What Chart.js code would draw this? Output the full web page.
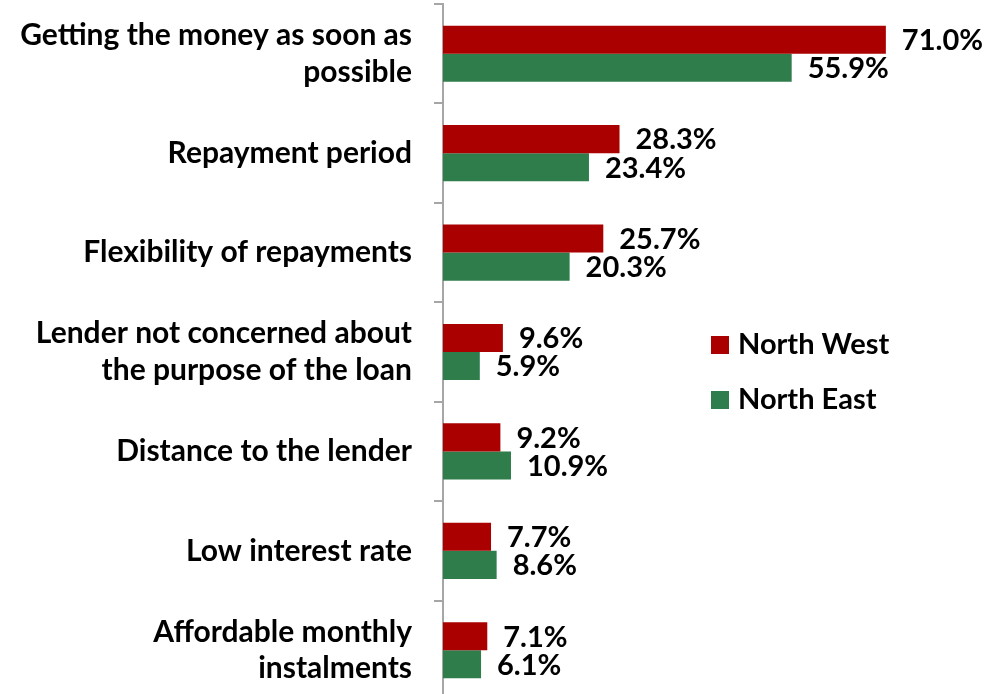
<!DOCTYPE html>
<html>
<head>
<meta charset="utf-8">
<script src="https://cdn.jsdelivr.net/npm/chart.js@4"></script>
<style>
  html, body { margin: 0; padding: 0; background: #fff; overflow: hidden; }
  .chart-container { width: 995px; height: 700px; position: relative; }
</style>
</head>
<body>
<div class="chart-container">
  <canvas id="chart"></canvas>
</div>
<script>
const categories = [
  ["Getting the money as soon as", "possible"],
  "Repayment period",
  "Flexibility of repayments",
  ["Lender not concerned about", "the purpose of the loan"],
  "Distance to the lender",
  "Low interest rate",
  ["Affordable monthly", "instalments"]
];
const northWest = [71.0, 28.3, 25.7, 9.6, 9.2, 7.7, 7.1];
const northEast = [55.9, 23.4, 20.3, 5.9, 10.9, 8.6, 6.1];
const seriesNames = ["North West", "North East"];
const seriesColors = ["#AA0000", "#2E7D4B"];

const FONT = "Lato, 'Liberation Sans', sans-serif";

// value labels to the right of each bar
const valueLabels = {
  id: "valueLabels",
  afterDatasetsDraw(chart) {
    const ctx = chart.ctx;
    ctx.save();
    ctx.font = "bold 29px " + FONT;
    ctx.fillStyle = "#000";
    ctx.textBaseline = "middle";
    ctx.textAlign = "left";
    chart.data.datasets.forEach((ds, i) => {
      chart.getDatasetMeta(i).data.forEach((bar, j) => {
        ctx.fillText(ds.data[j].toFixed(1) + "%", bar.x + 16, bar.y + 1);
      });
    });
    ctx.restore();
  }
};

// legend placed inside the plot, like the original
const insideLegend = {
  id: "insideLegend",
  afterDraw(chart) {
    const ctx = chart.ctx;
    ctx.save();
    ctx.font = "bold 29px " + FONT;
    ctx.textBaseline = "middle";
    chart.data.datasets.forEach((ds, i) => {
      const y = 345 + i * 55;
      ctx.fillStyle = ds.backgroundColor;
      ctx.fillRect(711, y - 9, 18, 18);
      ctx.fillStyle = "#000";
      ctx.fillText(ds.label, 738, y);
    });
    ctx.restore();
  }
};

const ctx = document.getElementById("chart").getContext("2d");
new Chart(ctx, {
  type: "bar",
  data: {
    labels: categories,
    datasets: [
      { label: seriesNames[0], data: northWest, backgroundColor: seriesColors[0] },
      { label: seriesNames[1], data: northEast, backgroundColor: seriesColors[1] }
    ]
  },
  options: {
    indexAxis: "y",
    animation: false,
    responsive: true,
    maintainAspectRatio: false,
    layout: { padding: { top: 4, right: 53, bottom: 0, left: 0 } },
    datasets: {
      bar: { categoryPercentage: 0.565, barPercentage: 1.0 }
    },
    plugins: {
      legend: { display: false },
      tooltip: { enabled: false }
    },
    scales: {
      x: {
        display: false,
        min: 0,
        max: 80
      },
      y: {
        afterFit(scale) {
          scale.width = 443;
          scale.paddingTop = 0;
          scale.paddingBottom = 0;
        },
        border: { display: true, color: "#A6A6A6", width: 2 },
        grid: {
          offset: true,
          drawOnChartArea: false,
          drawTicks: true,
          tickLength: 9,
          color: "#A6A6A6",
          lineWidth: 2
        },
        ticks: {
          color: "#000",
          padding: 22,
          font: { family: FONT, size: 30, weight: "bold", lineHeight: 1.23 }
        }
      }
    }
  },
  plugins: [valueLabels, insideLegend]
});
</script>
</body>
</html>
